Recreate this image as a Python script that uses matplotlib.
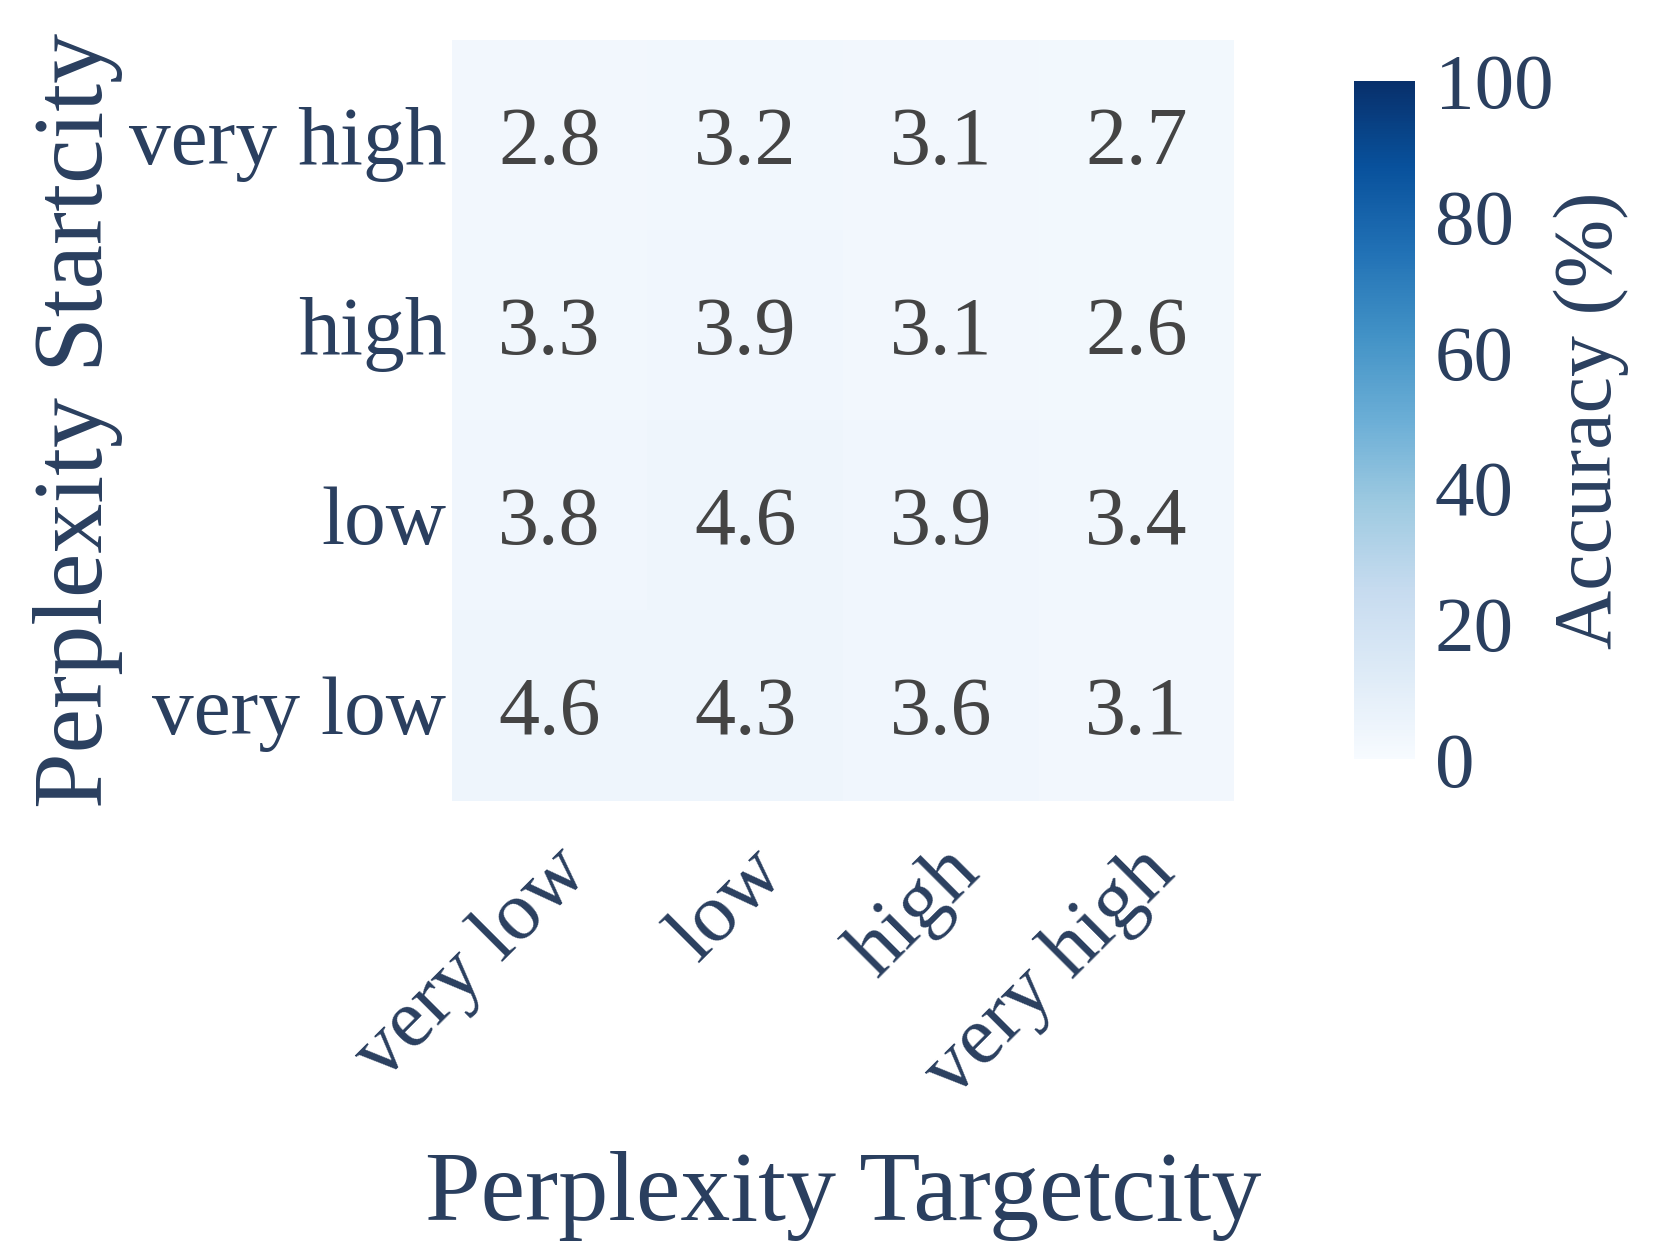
import matplotlib
matplotlib.use('Agg')

import numpy as np
import matplotlib.pyplot as plt
import seaborn as sns

# data
start_levels = ['very high', 'high', 'low', 'very low']
target_levels = ['very low', 'low', 'high', 'very high']
accuracy = np.array([
    [2.8, 3.2, 3.1, 2.7],
    [3.3, 3.9, 3.1, 2.6],
    [3.8, 4.6, 3.9, 3.4],
    [4.6, 4.3, 3.6, 3.1],
])
cbar_ticks = [0, 20, 40, 60, 80, 100]

text_color = '#2a3f5f'
plt.rcParams['font.family'] = ['Liberation Serif', 'DejaVu Serif']

fig = plt.figure(figsize=(16.61, 12.45), dpi=100)
ax = fig.add_axes([0.272, 0.357, 0.471, 0.611])
cax = fig.add_axes([0.815, 0.39, 0.037, 0.545])

sns.heatmap(accuracy, ax=ax, cbar_ax=cax, cmap='Blues', vmin=0, vmax=100,
            annot=True, fmt='.1f',
            annot_kws={'fontsize': 59, 'color': '#444444', 'va': 'center_baseline'},
            xticklabels=target_levels, yticklabels=start_levels)

ax.tick_params(length=0, labelsize=60, labelcolor=text_color)
ax.tick_params(axis='y', pad=4)
ax.tick_params(axis='x', pad=24)
ax.set_yticklabels(start_levels, rotation=0, va='center_baseline')
ax.set_xticklabels(target_levels, rotation=45, ha='right', rotation_mode='anchor')
ax.set_xlabel('Perplexity Targetcity', fontsize=72, color=text_color, labelpad=28)
ax.set_ylabel('Perplexity Startcity', fontsize=72, color=text_color, labelpad=4)

cbar = ax.collections[0].colorbar
cbar.outline.set_visible(False)
cbar.set_ticks(cbar_ticks)
cbar.ax.tick_params(length=0, labelsize=57, labelcolor=text_color, pad=14)
cbar.set_label('Accuracy (%)', fontsize=59, color=text_color, labelpad=0)

fig.savefig('out.png', dpi=100)
